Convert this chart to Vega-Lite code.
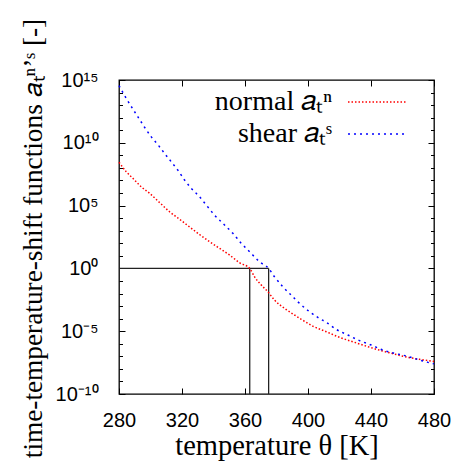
{
  "$schema": "https://vega.github.io/schema/vega-lite/v6.json",
  "width": 315,
  "height": 314,
  "autosize": {"type": "none"},
  "padding": {"left": 119, "top": 80, "right": 29, "bottom": 72},
  "background": "white",
  "datasets": {
    "guides": [
      {"T": 280, "T2": 375, "a": 1, "a2": 1},
      {"T": 363, "T2": 363, "a": 1e-10, "a2": 1},
      {"T": 375, "T2": 375, "a": 1e-10, "a2": 1}
    ],
    "curves": [
      {"series": "normal", "T": 280, "aT": 2.82e8},
      {"series": "normal", "T": 284.6, "aT": 5.01e7},
      {"series": "normal", "T": 288.8, "aT": 1.48e7},
      {"series": "normal", "T": 294.1, "aT": 3.16e6},
      {"series": "normal", "T": 299.4, "aT": 9.55e5},
      {"series": "normal", "T": 305.7, "aT": 1.78e5},
      {"series": "normal", "T": 312.1, "aT": 3.24e4},
      {"series": "normal", "T": 318.4, "aT": 8.32e3},
      {"series": "normal", "T": 324.8, "aT": 2.0e3},
      {"series": "normal", "T": 331.1, "aT": 501},
      {"series": "normal", "T": 337.5, "aT": 135},
      {"series": "normal", "T": 343.8, "aT": 39.8},
      {"series": "normal", "T": 350.2, "aT": 11.7},
      {"series": "normal", "T": 356.5, "aT": 2.82},
      {"series": "normal", "T": 363, "aT": 1},
      {"series": "normal", "T": 366, "aT": 0.219},
      {"series": "normal", "T": 370.3, "aT": 0.0479},
      {"series": "normal", "T": 374.5, "aT": 0.0138},
      {"series": "normal", "T": 378.7, "aT": 0.00302},
      {"series": "normal", "T": 385.1, "aT": 6.61e-4},
      {"series": "normal", "T": 391.4, "aT": 1.95e-4},
      {"series": "normal", "T": 395.7, "aT": 8.91e-5},
      {"series": "normal", "T": 403, "aT": 2.57e-5},
      {"series": "normal", "T": 411.6, "aT": 9.12e-6},
      {"series": "normal", "T": 420, "aT": 3.24e-6},
      {"series": "normal", "T": 428.4, "aT": 1.45e-6},
      {"series": "normal", "T": 438, "aT": 5.89e-7},
      {"series": "normal", "T": 446.5, "aT": 2.82e-7},
      {"series": "normal", "T": 454.9, "aT": 1.51e-7},
      {"series": "normal", "T": 463.4, "aT": 8.32e-8},
      {"series": "normal", "T": 470.8, "aT": 5.75e-8},
      {"series": "normal", "T": 478.2, "aT": 4.27e-8},
      {"series": "normal", "T": 480, "aT": 3.89e-8},
      {"series": "shear", "T": 280, "aT": 3.55e14},
      {"series": "shear", "T": 284.6, "aT": 3.47e13},
      {"series": "shear", "T": 291.9, "aT": 1.2e12},
      {"series": "shear", "T": 300.4, "aT": 3.09e10},
      {"series": "shear", "T": 305.7, "aT": 4.9e9},
      {"series": "shear", "T": 308.9, "aT": 1.45e9},
      {"series": "shear", "T": 313.1, "aT": 3.16e8},
      {"series": "shear", "T": 317.3, "aT": 6.76e7},
      {"series": "shear", "T": 321.6, "aT": 1.1e7},
      {"series": "shear", "T": 325.8, "aT": 2.4e6},
      {"series": "shear", "T": 331.1, "aT": 5.13e5},
      {"series": "shear", "T": 335.4, "aT": 1.12e5},
      {"series": "shear", "T": 340.6, "aT": 1.78e4},
      {"series": "shear", "T": 347, "aT": 2.88e3},
      {"series": "shear", "T": 352.3, "aT": 617},
      {"series": "shear", "T": 357.6, "aT": 100},
      {"series": "shear", "T": 362.9, "aT": 21.4},
      {"series": "shear", "T": 369.2, "aT": 3.39},
      {"series": "shear", "T": 375, "aT": 1},
      {"series": "shear", "T": 378.7, "aT": 0.219},
      {"series": "shear", "T": 384, "aT": 0.0347},
      {"series": "shear", "T": 390.3, "aT": 0.00562},
      {"series": "shear", "T": 393.5, "aT": 0.00224},
      {"series": "shear", "T": 401, "aT": 3.55e-4},
      {"series": "shear", "T": 406.2, "aT": 1.26e-4},
      {"series": "shear", "T": 412.6, "aT": 4.27e-5},
      {"series": "shear", "T": 417.9, "aT": 1.41e-5},
      {"series": "shear", "T": 425.3, "aT": 5.01e-6},
      {"series": "shear", "T": 432.7, "aT": 1.78e-6},
      {"series": "shear", "T": 440.1, "aT": 7.94e-7},
      {"series": "shear", "T": 447.5, "aT": 3.16e-7},
      {"series": "shear", "T": 454.9, "aT": 1.74e-7},
      {"series": "shear", "T": 462.3, "aT": 1.07e-7},
      {"series": "shear", "T": 468.7, "aT": 6.17e-8},
      {"series": "shear", "T": 476.1, "aT": 3.31e-8},
      {"series": "shear", "T": 480, "aT": 2.51e-8}
    ]
  },
  "config": {
    "view": {"stroke": "#000", "strokeWidth": 1.3},
    "axis": {
      "domain": false,
      "grid": false,
      "tickColor": "#000",
      "tickWidth": 1,
      "labelColor": "#000",
      "labelFont": "Liberation Sans",
      "labelFontSize": 20,
      "titleFont": "Liberation Serif",
      "titleFontSize": 28.5,
      "titleFontWeight": "normal",
      "titleColor": "#000",
      "labelOverlap": false,
      "labelFlush": false
    },
    "legend": {
      "orient": "none",
      "legendX": 244,
      "legendY": 8,
      "padding": 0,
      "symbolType": "M -5.8 0 H 5.8",
      "symbolSize": 100,
      "symbolStrokeWidth": 1.5,
      "symbolFillColor": "transparent",
      "labelAlign": "right",
      "labelOffset": -59,
      "labelFont": "Liberation Serif",
      "labelFontSize": 28,
      "labelColor": "#000",
      "labelLimit": 300,
      "rowPadding": 4
    }
  },
  "layer": [
    {
      "data": {"name": "guides"},
      "mark": {"type": "rule", "color": "#222", "strokeWidth": 1.3},
      "encoding": {
        "x": {
          "field": "T", "type": "quantitative",
          "scale": {"domain": [280, 480], "nice": false, "zero": false},
          "axis": {
            "orient": "bottom",
            "values": [280, 320, 360, 400, 440, 480],
            "tickSize": -6,
            "labelPadding": 22,
            "title": "temperature θ [K]",
            "titleFontSize": 28.5,
            "titleY": 60,
            "titleBaseline": "alphabetic"
          }
        },
        "x2": {"field": "T2"},
        "y": {
          "field": "a", "type": "quantitative",
          "scale": {"type": "log", "domain": [1e-10, 1e15], "nice": false},
          "axis": {
            "orient": "left",
            "values": [1e-10, 1e-9, 1e-8, 1e-7, 1e-6, 1e-5, 1e-4, 1e-3, 1e-2, 1e-1, 1, 10, 100, 1e3, 1e4, 1e5, 1e6, 1e7, 1e8, 1e9, 1e10, 1e11, 1e12, 1e13, 1e14, 1e15],
            "tickSize": {"condition": {"test": "abs(round(log(datum.value)/LN10)) % 5 == 0", "value": -6}, "value": -3.5},
            "labelPadding": 27,
            "labelExpr": "round(log(datum.value)/LN10) == 15 ? '10¹⁵' : round(log(datum.value)/LN10) == 10 ? '10¹⁰' : round(log(datum.value)/LN10) == 5 ? '10⁵' : round(log(datum.value)/LN10) == 0 ? '10⁰' : round(log(datum.value)/LN10) == -5 ? '10⁻⁵' : round(log(datum.value)/LN10) == -10 ? '10⁻¹⁰' : ''",
            "title": "time-temperature-shift functions 𝑎ₜⁿʼˢ [-]",
            "titleFontSize": 27.3,
            "titleAngle": 270,
            "titleAlign": "center",
            "titleBaseline": "alphabetic",
            "titleX": -78,
            "titleY": 158
          }
        },
        "y2": {"field": "a2"}
      }
    },
    {
      "data": {"name": "curves"},
      "mark": {"type": "line", "strokeWidth": 1.5, "interpolate": "monotone"},
      "encoding": {
        "x": {
          "field": "T", "type": "quantitative",
          "scale": {"domain": [280, 480], "nice": false, "zero": false},
          "axis": {
            "orient": "top",
            "values": [280, 320, 360, 400, 440, 480],
            "tickSize": -6,
            "labels": false,
            "title": null
          }
        },
        "y": {
          "field": "aT", "type": "quantitative",
          "scale": {"type": "log", "domain": [1e-10, 1e15], "nice": false},
          "axis": {
            "orient": "right",
            "values": [1e-10, 1e-9, 1e-8, 1e-7, 1e-6, 1e-5, 1e-4, 1e-3, 1e-2, 1e-1, 1, 10, 100, 1e3, 1e4, 1e5, 1e6, 1e7, 1e8, 1e9, 1e10, 1e11, 1e12, 1e13, 1e14, 1e15],
            "tickSize": {"condition": {"test": "abs(round(log(datum.value)/LN10)) % 5 == 0", "value": -6}, "value": -3.5},
            "labels": false,
            "title": null
          }
        },
        "color": {
          "field": "series", "type": "nominal",
          "scale": {"domain": ["normal", "shear"], "range": ["#ff0000", "#0000ff"]},
          "legend": {"title": null, "labelExpr": "datum.label == 'normal' ? 'normal 𝑎ₜⁿ' : 'shear 𝑎ₜˢ'"}
        },
        "strokeDash": {
          "field": "series", "type": "nominal",
          "scale": {"domain": ["normal", "shear"], "range": [[1.5, 2], [2, 4]]},
          "legend": {"title": null, "labelExpr": "datum.label == 'normal' ? 'normal 𝑎ₜⁿ' : 'shear 𝑎ₜˢ'"}
        }
      }
    }
  ],
  "resolve": {"axis": {"x": "independent", "y": "independent"}}
}
